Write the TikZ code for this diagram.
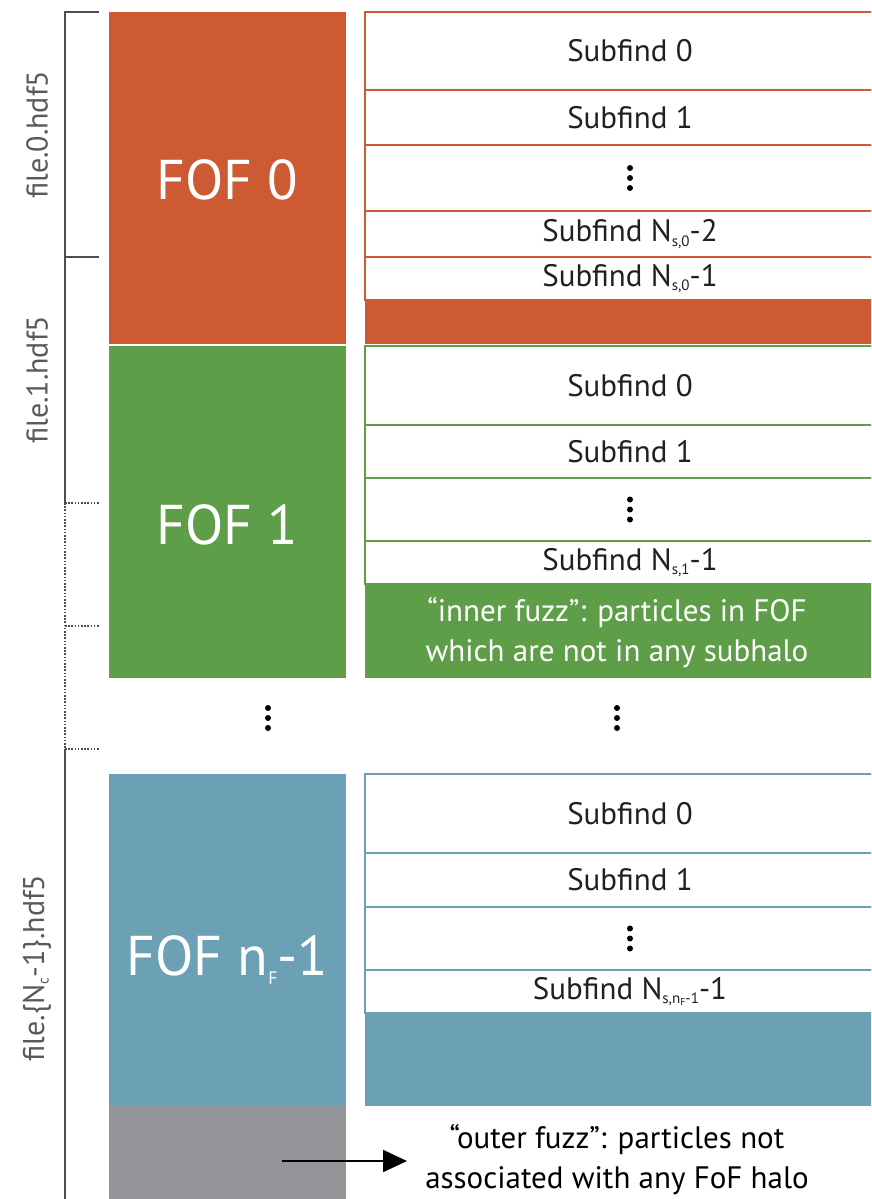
\documentclass[tikz,border=0pt]{standalone}
\usepackage{fontspec}
\setmainfont{PT Sans}
\usetikzlibrary{arrows.meta}
\definecolor{cor}{HTML}{CD5A32}
\definecolor{cgr}{HTML}{5F9E48}
\definecolor{cbl}{HTML}{6CA0B5}
\definecolor{cgy}{HTML}{939598}
\definecolor{txt}{HTML}{231F20}
\definecolor{lab}{HTML}{58595B}
\definecolor{brkc}{HTML}{4D4D4F}
\newcommand\sbs[1]{\raisebox{-0.3ex}{\fontsize{15}{16}\selectfont #1}}
\newcommand\ssbs[1]{\raisebox{-0.2ex}{\fontsize{10}{11}\selectfont #1}}
\begin{document}
\begin{tikzpicture}[x=1pt,y=-1pt,
  fof/.style={fill=#1, draw=none, minimum width=237pt, inner sep=0pt},
  foftxt/.style={text=white, font=\fontsize{56}{64}\selectfont},
  row/.style={draw=#1, line width=1.4pt, fill=white, minimum width=530pt, inner sep=0pt, text=txt, font=\fontsize{31}{36}\selectfont},
  band/.style={fill=#1, draw=none, minimum width=530pt, inner sep=0pt},
  flabel/.style={rotate=90, text=lab, font=\fontsize{30}{34}\selectfont},
  brk/.style={line width=1.3pt, draw=brkc},
  brkd/.style={brk, dash pattern=on 1.6pt off 1.6pt},
  vd/.pic={\fill[#1] (0,-10) circle (3) (0,0) circle (3) (0,10) circle (3);},
  vd/.default=black,
  note/.style={align=center, font=\fontsize{31}{40}\selectfont}
]
\useasboundingbox (0,0) rectangle (871,1199);
\clip (0,0) rectangle (871,1199);

% FOF boxes (left column)
\node[fof=cor, minimum height=332pt] (fof0box) at (227.5,178) {};
\node[foftxt] (fof0) at (227.5,180) {FOF 0};
\node[fof=cgr, minimum height=332pt] (fof1box) at (227.5,512) {};
\node[foftxt] (fof1) at (227.5,525) {FOF 1};
\node[fof=cbl, minimum height=332pt] (fofnbox) at (227.5,940) {};
\node[foftxt] (fofn) at (227.5,960) {FOF n\raisebox{-0.35ex}{\fontsize{18}{18}\selectfont F}-1};
\node[fof=cgy, minimum height=100pt] (outerbox) at (227.5,1156) {};

% orange subfind rows
\node[row=cor, minimum height=78pt] (o0) at (630,51) {Subfind 0};
\node[row=cor, minimum height=55pt] (o1) at (630,117.5) {Subfind 1};
\node[row=cor, minimum height=66pt] (o2) at (630,178) {};
\pic at (o2) {vd};
\node[row=cor, minimum height=46pt] (o3) at (630,234) {Subfind N\sbs{s,0}-2};
\node[row=cor, minimum height=43pt] (o4) at (630,278.5) {Subfind N\sbs{s,0}-1};
\node[band=cor, minimum height=44pt] (ob) at (630,322) {};

% green subfind rows
\node[row=cgr, minimum height=79pt] (g0) at (630,385.5) {Subfind 0};
\node[row=cgr, minimum height=53pt] (g1) at (630,451.5) {Subfind 1};
\node[row=cgr, minimum height=63pt] (g2) at (630,509.5) {};
\pic at (g2) {vd};
\node[row=cgr, minimum height=43pt] (g3) at (630,562.5) {Subfind N\sbs{s,1}-1};
\node[band=cgr, minimum height=94pt] (gb) at (630,631) {};
\node[note, text=white] (inner) at (617,633) {“inner fuzz”: particles in FOF\\which are not in any subhalo};

% gap dots
\coordinate (dl) at (268,718);
\coordinate (dr) at (617,718);
\pic at (dl) {vd};
\pic at (dr) {vd};

% blue subfind rows
\node[row=cbl, minimum height=79pt] (b0) at (630,813.5) {Subfind 0};
\node[row=cbl, minimum height=54pt] (b1) at (630,880) {Subfind 1};
\node[row=cbl, minimum height=63pt] (b2) at (630,938.5) {};
\pic at (b2) {vd};
\node[row=cbl, minimum height=43pt] (b3) at (630,991.5) {Subfind N\sbs{s,n\ssbs{F}-1}-1};
\node[band=cbl, minimum height=93pt] (bb) at (630,1059.5) {};

% outer fuzz
\node[note, text=black] (outer) at (617,1160) {“outer fuzz”: particles not\\associated with any FoF halo};
\coordinate (arrS) at (282,1161);
\coordinate (arrE) at (407,1161);
\draw[line width=2pt, -{Triangle[length=24pt,width=22pt]}] (arrS) -- (arrE);

% bracket
\coordinate (t0) at (65,12);
\coordinate (t0e) at (99,12);
\coordinate (t1) at (65,257);
\coordinate (t1e) at (99,257);
\coordinate (t2) at (65,503);
\coordinate (t2e) at (99,503);
\coordinate (t3) at (65,626);
\coordinate (t3e) at (99,626);
\coordinate (t4) at (65,749);
\coordinate (t4e) at (99,749);
\coordinate (tb) at (65,1199);
\draw[brk] (t0e) -- (t0) -- (t2);
\draw[brk] (t1) -- (t1e);
\draw[brkd] (t2) -- (t2e);
\draw[brkd] (t2) -- (t4);
\draw[brkd] (t3) -- (t3e);
\draw[brkd] (t4) -- (t4e);
\draw[brk] (t4) -- (tb);

\node[flabel] (f0) at (37,135) {file.0.hdf5};
\node[flabel] (f1) at (37,380) {file.1.hdf5};
\node[flabel] (fn) at (37,968) {file.\{N\sbs{c}-1\}.hdf5};
\end{tikzpicture}
\end{document}
